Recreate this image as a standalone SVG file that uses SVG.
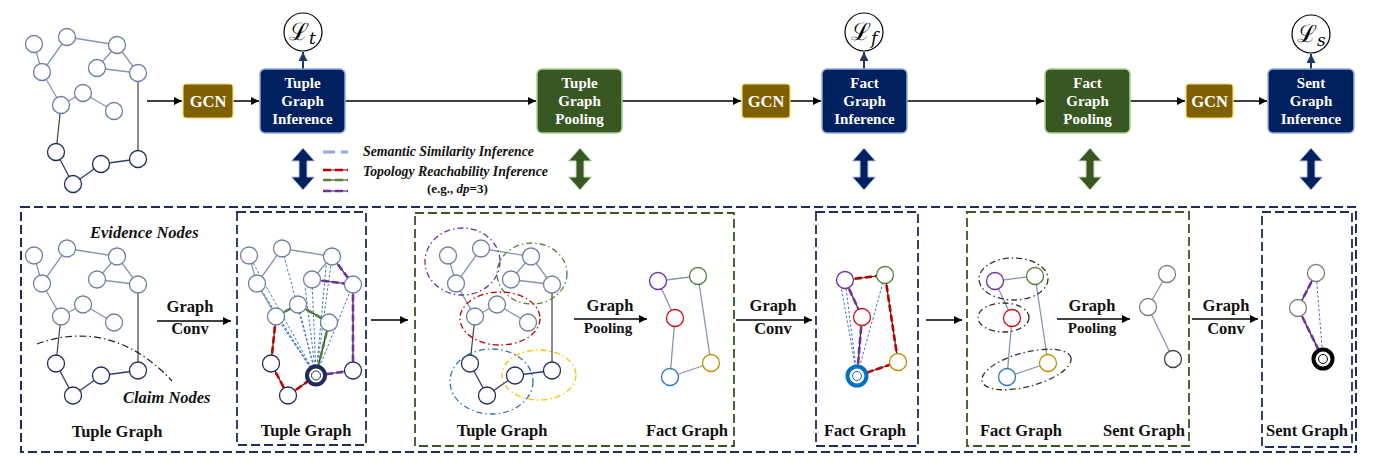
<svg xmlns="http://www.w3.org/2000/svg" xmlns:xlink="http://www.w3.org/1999/xlink" width="1379" height="471" viewBox="0 0 1379 471">
<style>
  .t{font-family:"Liberation Serif","Times New Roman",serif;font-weight:bold}
  .bx{font-family:"Liberation Serif","Times New Roman",serif;font-weight:bold;fill:#fff;font-size:15px;text-anchor:middle}
  .lbl{font-family:"Liberation Serif","Times New Roman",serif;font-weight:bold;fill:#111;font-size:16.5px;text-anchor:middle}
  .it{font-family:"Liberation Serif","Times New Roman",serif;font-weight:bold;font-style:italic;fill:#111}
  .lt{font-family:"DejaVu Serif",serif;font-size:24px;fill:#000}
  .ev{fill:#fff;stroke:#6b7fa3;stroke-width:1.3}
  .cl{fill:#fff;stroke:#1f2d5c;stroke-width:1.3}
  .ee{stroke:#8496b0;stroke-width:1.3;fill:none}
  .ce{stroke:#2f3e6b;stroke-width:1.3;fill:none}
  .xe{stroke:#404040;stroke-width:1.2;fill:none}
  .hb{stroke:#262626;stroke-width:1.2;fill:none}
  .hr{stroke:#c00000;stroke-width:2.6;stroke-dasharray:7,3;fill:none}
  .hg{stroke:#548235;stroke-width:2.6;stroke-dasharray:7,3;fill:none}
  .hp{stroke:#7030a0;stroke-width:2.6;stroke-dasharray:7,3;fill:none}
  .ss{stroke:#4472c4;stroke-width:1;stroke-dasharray:2.5,2;fill:none}
  .arr{stroke:#000;stroke-width:1.5;fill:none;marker-end:url(#ah)}
  .larr{stroke:#203864;stroke-width:2;fill:none;marker-end:url(#ahn)}
  .navy{fill:#002060;stroke:#8faadc;stroke-width:1.5}
  .green{fill:#385723;stroke:#a9d18e;stroke-width:1.5}
  .gcn{fill:#7f6000;stroke:#ffd966;stroke-width:1.2}
  .obox{fill:none;stroke:#1f2d5c;stroke-width:2;stroke-dasharray:9,4}
  .nbox{fill:none;stroke:#1f2d5c;stroke-width:1.8;stroke-dasharray:9,4}
  .gbox{fill:none;stroke:#385723;stroke-width:1.8;stroke-dasharray:9,4}
  .loss{fill:#fff;stroke:#000;stroke-width:1.2}
  .fe{stroke:#8496b0;stroke-width:1.3;fill:none}
  .dd{fill:none;stroke-width:1.3;stroke-dasharray:6,3,1.5,3}
</style>
<defs>
  <marker id="ah" viewBox="0 0 10 10" refX="10" refY="5" markerWidth="9" markerHeight="8" markerUnits="userSpaceOnUse" orient="auto"><path d="M0,0 L10,5 L0,10 z" fill="#000"/></marker>
  <marker id="ahn" viewBox="0 0 10 10" refX="10" refY="5" markerWidth="9" markerHeight="9" markerUnits="userSpaceOnUse" orient="auto"><path d="M0,0 L10,5 L0,10 z" fill="#203864"/></marker>
  <path id="dbl" d="M0,0 L11.5,13 L4,13 L4,29 L11.5,29 L0,42 L-11.5,29 L-4,29 L-4,13 L-11.5,13 Z"/>
  <g id="tgEdges">
    <line class="ee" x1="34" y1="44" x2="42" y2="72"/>
    <line class="ee" x1="42" y1="72" x2="67" y2="37"/>
    <line class="ee" x1="67" y1="37" x2="117" y2="45"/>
    <line class="ee" x1="117" y1="45" x2="97" y2="68"/>
    <line class="ee" x1="117" y1="45" x2="138" y2="73"/>
    <line class="ee" x1="97" y1="68" x2="138" y2="73"/>
    <line class="ee" x1="42" y1="72" x2="61" y2="105"/>
    <line class="ee" x1="61" y1="105" x2="83" y2="93"/>
    <line class="ee" x1="83" y1="93" x2="114" y2="111"/>
    <line class="xe" x1="61" y1="105" x2="56" y2="152"/>
    <line class="xe" x1="138" y1="73" x2="138" y2="159"/>
    <line class="ce" x1="56" y1="152" x2="73" y2="184"/>
    <line class="ce" x1="73" y1="184" x2="101" y2="164"/>
    <line class="ce" x1="101" y1="164" x2="138" y2="159"/>
  </g>
  <g id="tgNodes">
    <circle class="ev" cx="34" cy="44" r="8.5"/>
    <circle class="ev" cx="67" cy="37" r="8.5"/>
    <circle class="ev" cx="117" cy="45" r="8.5"/>
    <circle class="ev" cx="42" cy="72" r="8.5"/>
    <circle class="ev" cx="97" cy="68" r="8.5"/>
    <circle class="ev" cx="138" cy="73" r="8.5"/>
    <circle class="ev" cx="83" cy="93" r="8.5"/>
    <circle class="ev" cx="61" cy="105" r="8.5"/>
    <circle class="ev" cx="114" cy="111" r="8.5"/>
    <circle class="cl" cx="56" cy="152" r="8.5"/>
    <circle class="cl" cx="138" cy="159" r="8.5"/>
    <circle class="cl" cx="101" cy="164" r="8.5"/>
    <circle class="cl" cx="73" cy="184" r="8.5"/>
  </g>
  <g id="tupleGraph"><use xlink:href="#tgEdges"/><use xlink:href="#tgNodes"/></g>
  <g id="factNodes">
    <circle cx="0" cy="0" r="8.5" fill="#fff" stroke="#7030a0" stroke-width="1.3"/>
    <circle cx="40" cy="-5" r="8.5" fill="#fff" stroke="#548235" stroke-width="1.3"/>
    <circle cx="17" cy="37" r="8.5" fill="#fff" stroke="#d01010" stroke-width="1.3"/>
    <circle cx="53" cy="82" r="8.5" fill="#fff" stroke="#c09000" stroke-width="1.3"/>
  </g>
</defs>

<!-- top-left input graph -->
<g id="input-graph"><use xlink:href="#tupleGraph"/></g>

<!-- connectors (top row) -->
<g id="connectors">
  <line class="arr" x1="147" y1="101" x2="182" y2="101"/>
  <line class="arr" x1="233" y1="101" x2="259" y2="101"/>
  <line class="arr" x1="345" y1="101" x2="536" y2="101"/>
  <line class="arr" x1="622" y1="101" x2="741" y2="101"/>
  <line class="arr" x1="790" y1="101" x2="821" y2="101"/>
  <line class="arr" x1="907" y1="101" x2="1044" y2="101"/>
  <line class="arr" x1="1130" y1="101" x2="1185" y2="101"/>
  <line class="arr" x1="1233" y1="101" x2="1267" y2="101"/>
  <line class="larr" x1="303" y1="69" x2="303" y2="52"/>
  <line class="larr" x1="864" y1="69" x2="864" y2="52"/>
  <line class="larr" x1="1311" y1="69" x2="1311" y2="54"/>
  <!-- bottom arrows -->
  <line class="arr" x1="157" y1="321" x2="231" y2="321"/>
  <line class="arr" x1="371" y1="320" x2="408" y2="320"/>
  <line class="arr" x1="574" y1="319" x2="647" y2="319"/>
  <line class="arr" x1="736" y1="320" x2="812" y2="320"/>
  <line class="arr" x1="926" y1="320" x2="962" y2="320"/>
  <line class="arr" x1="1057" y1="319" x2="1130" y2="319"/>
  <line class="arr" x1="1192" y1="319" x2="1258" y2="319"/>
</g>

<!-- top row nodes -->
<g id="gcn1"><rect class="gcn" x="183" y="84" width="50" height="34" rx="3"/><text class="bx" x="208" y="107" style="font-size:16.5px">GCN</text></g>
<g id="tuple-inference"><rect class="navy" x="260" y="69" width="85" height="64" rx="5"/><text class="bx" x="302.5" y="88">Tuple</text><text class="bx" x="302.5" y="106">Graph</text><text class="bx" x="302.5" y="124">Inference</text></g>
<g id="loss-t"><circle class="loss" cx="303" cy="32" r="19"/><text class="lt" x="289" y="40">ℒ<tspan dy="4" style="font-size:17px;font-style:italic">t</tspan></text></g>
<g id="tuple-pooling"><rect class="green" x="537" y="69" width="85" height="64" rx="5"/><text class="bx" x="579.5" y="88">Tuple</text><text class="bx" x="579.5" y="106">Graph</text><text class="bx" x="579.5" y="124">Pooling</text></g>
<g id="gcn2"><rect class="gcn" x="742" y="84" width="48" height="34" rx="3"/><text class="bx" x="766" y="107" style="font-size:16.5px">GCN</text></g>
<g id="fact-inference"><rect class="navy" x="822" y="69" width="85" height="64" rx="5"/><text class="bx" x="864.5" y="88">Fact</text><text class="bx" x="864.5" y="106">Graph</text><text class="bx" x="864.5" y="124">Inference</text></g>
<g id="loss-f"><circle class="loss" cx="864" cy="32" r="19"/><text class="lt" x="851" y="40">ℒ<tspan dy="4" style="font-size:17px;font-style:italic">f</tspan></text></g>
<g id="fact-pooling"><rect class="green" x="1045" y="69" width="85" height="64" rx="5"/><text class="bx" x="1087.5" y="88">Fact</text><text class="bx" x="1087.5" y="106">Graph</text><text class="bx" x="1087.5" y="124">Pooling</text></g>
<g id="gcn3"><rect class="gcn" x="1186" y="84" width="47" height="34" rx="3"/><text class="bx" x="1209.5" y="107" style="font-size:16.5px">GCN</text></g>
<g id="sent-inference"><rect class="navy" x="1268" y="69" width="86" height="64" rx="5"/><text class="bx" x="1311" y="88">Sent</text><text class="bx" x="1311" y="106">Graph</text><text class="bx" x="1311" y="124">Inference</text></g>
<g id="loss-s"><circle class="loss" cx="1311" cy="34" r="19"/><text class="lt" x="1297" y="42">ℒ<tspan dy="4" style="font-size:17px;font-style:italic">s</tspan></text></g>

<!-- double arrows -->
<g id="double-arrows" stroke-width="1">
  <use xlink:href="#dbl" x="303" y="148" fill="#002060" stroke="#b4c7e7"/>
  <use xlink:href="#dbl" x="580" y="148" fill="#385723" stroke="#c5e0b4"/>
  <use xlink:href="#dbl" x="864" y="148" fill="#002060" stroke="#b4c7e7"/>
  <use xlink:href="#dbl" x="1090" y="148" fill="#385723" stroke="#c5e0b4"/>
  <use xlink:href="#dbl" x="1311" y="148" fill="#002060" stroke="#b4c7e7"/>
</g>

<!-- legend -->
<g id="legend">
  <line x1="323" y1="152" x2="348" y2="152" stroke="#8faadc" stroke-width="3" stroke-dasharray="12,6"/>
  <line x1="323" y1="170" x2="348" y2="170" stroke="#262626" stroke-width="1"/>
  <line x1="323" y1="170" x2="348" y2="170" stroke="#c00000" stroke-width="2.6" stroke-dasharray="8,4"/>
  <line x1="323" y1="180" x2="348" y2="180" stroke="#262626" stroke-width="1"/>
  <line x1="323" y1="180" x2="348" y2="180" stroke="#548235" stroke-width="2.6" stroke-dasharray="8,4"/>
  <line x1="323" y1="191" x2="348" y2="191" stroke="#262626" stroke-width="1"/>
  <line x1="323" y1="191" x2="348" y2="191" stroke="#7030a0" stroke-width="2.6" stroke-dasharray="8,4"/>
  <text class="it" x="363" y="156" style="font-size:13.8px">Semantic Similarity Inference</text>
  <text class="it" x="363" y="176" style="font-size:13.8px">Topology Reachability Inference</text>
  <text class="t" x="427" y="193" style="font-size:13px;fill:#111">(e.g., <tspan font-style="italic">dp</tspan>=3)</text>
</g>

<!-- bottom frames -->
<g id="frames">
  <rect class="obox" x="21" y="207" width="1335" height="245"/>
  <rect class="nbox" x="237" y="212" width="129" height="233"/>
  <rect class="gbox" x="415" y="213" width="319" height="233"/>
  <rect class="nbox" x="816" y="212" width="102" height="234"/>
  <rect class="gbox" x="967" y="212" width="222" height="234"/>
  <rect class="nbox" x="1262" y="212" width="90" height="235"/>
</g>

<!-- panel 1 -->
<g id="panel1">
  <g transform="translate(0,211.5)"><use xlink:href="#tupleGraph"/></g>
  <path d="M37,344 C75,330 125,330 172,381" fill="none" stroke="#222" stroke-width="1.2" stroke-dasharray="7,3,1.5,3"/>
  <text class="it" x="90" y="238" style="font-size:16.5px">Evidence Nodes</text>
  <text class="it" x="123" y="403" style="font-size:16.5px">Claim Nodes</text>
  <text class="lbl" x="117" y="437">Tuple Graph</text>
  <text class="lbl" x="190" y="312">Graph</text>
  <text class="lbl" x="190" y="334">Conv</text>
</g>

<!-- panel 2 -->
<g id="panel2">
  <g transform="translate(215,211.5)">
    <line class="ss" x1="101" y1="164" x2="34" y2="44"/>
    <line class="ss" x1="101" y1="164" x2="67" y2="37"/>
    <line class="ss" x1="101" y1="164" x2="42" y2="72"/>
    <line class="ss" x1="100" y1="164" x2="47" y2="80"/>
    <line class="ss" x1="101" y1="164" x2="61" y2="105"/>
    <line class="ss" x1="101" y1="164" x2="83" y2="93"/>
    <line class="ss" x1="101" y1="164" x2="90" y2="75"/>
    <line class="ss" x1="101" y1="164" x2="97" y2="68"/>
    <line class="ss" x1="101" y1="164" x2="112" y2="45"/>
    <line class="ss" x1="101" y1="164" x2="117" y2="45"/>
    <line class="ss" x1="101" y1="164" x2="138" y2="73"/>
    <line class="ss" x1="101" y1="164" x2="114" y2="111"/>
    <line class="ee" x1="34" y1="44" x2="42" y2="72"/>
    <line class="ee" x1="42" y1="72" x2="67" y2="37"/>
    <line class="ee" x1="67" y1="37" x2="117" y2="45"/>
    <line class="ee" x1="117" y1="45" x2="97" y2="68"/>
    <line class="ee" x1="42" y1="72" x2="61" y2="105"/>
    <g class="hb">
      <line x1="61" y1="105" x2="83" y2="93"/><line x1="83" y1="93" x2="114" y2="111"/><line x1="114" y1="111" x2="101" y2="164"/>
      <line x1="61" y1="105" x2="56" y2="152"/><line x1="56" y1="152" x2="73" y2="184"/><line x1="73" y1="184" x2="101" y2="164"/>
      <line x1="117" y1="45" x2="138" y2="73"/><line x1="97" y1="68" x2="138" y2="73"/><line x1="138" y1="73" x2="138" y2="159"/><line x1="138" y1="159" x2="101" y2="164"/>
    </g>
    <g class="hg"><line x1="61" y1="105" x2="83" y2="93"/><line x1="83" y1="93" x2="114" y2="111"/><line x1="114" y1="111" x2="101" y2="164"/></g>
    <g class="hr"><line x1="61" y1="105" x2="56" y2="152"/><line x1="56" y1="152" x2="73" y2="184"/><line x1="73" y1="184" x2="101" y2="164"/></g>
    <g class="hp"><line x1="117" y1="45" x2="138" y2="73"/><line x1="97" y1="68" x2="138" y2="73"/><line x1="138" y1="73" x2="138" y2="159"/><line x1="138" y1="159" x2="101" y2="164"/></g>
    <use xlink:href="#tgNodes"/>
    <circle cx="101" cy="164" r="9" fill="#fff" stroke="#1f2d5c" stroke-width="4"/>
    <circle cx="101" cy="164" r="4.5" fill="#fff" stroke="#1f2d5c" stroke-width="1"/>
  </g>
  <text class="lbl" x="306" y="436">Tuple Graph</text>
</g>

<!-- panel 3 -->
<g id="panel3">
  <g transform="translate(414,211.5)"><use xlink:href="#tupleGraph"/></g>
  <ellipse class="dd" cx="462.5" cy="261.5" rx="37.5" ry="33.5" stroke="#7030a0"/>
  <ellipse class="dd" cx="532" cy="273.5" rx="35" ry="30.5" stroke="#548235"/>
  <ellipse class="dd" cx="500" cy="318.5" rx="40" ry="26.5" stroke="#c00000"/>
  <ellipse class="dd" cx="491.5" cy="381.5" rx="41.5" ry="32.5" stroke="#2e75b6"/>
  <ellipse class="dd" cx="539" cy="375" rx="37" ry="25" stroke="#ffc000"/>
  <g id="fact-graph-1">
    <line class="fe" x1="658" y1="281" x2="698" y2="276"/>
    <line class="fe" x1="658" y1="281" x2="675" y2="318"/>
    <line class="fe" x1="675" y1="318" x2="670" y2="377"/>
    <line class="fe" x1="670" y1="377" x2="711" y2="363"/>
    <line class="fe" x1="698" y1="276" x2="711" y2="363"/>
    <use xlink:href="#factNodes" x="658" y="281"/>
    <circle cx="670" cy="377" r="8.5" fill="#fff" stroke="#2e75b6" stroke-width="1.3"/>
  </g>
  <text class="lbl" x="610" y="311">Graph</text>
  <text class="lbl" x="608" y="333" style="font-size:15px">Pooling</text>
  <text class="lbl" x="502" y="436">Tuple Graph</text>
  <text class="lbl" x="687" y="436">Fact Graph</text>
  <text class="lbl" x="773" y="311">Graph</text>
  <text class="lbl" x="773" y="334">Conv</text>
</g>

<!-- panel 4 -->
<g id="panel4">
  <g transform="translate(845,280)">
    <line class="ss" x1="12" y1="96" x2="0" y2="0"/>
    <line class="ss" x1="12" y1="96" x2="-4" y2="6"/>
    <line class="ss" x1="12" y1="96" x2="17" y2="37"/>
    <line class="ss" x1="12" y1="96" x2="40" y2="-5"/>
    <g class="hb"><line x1="0" y1="0" x2="40" y2="-5"/><line x1="0" y1="0" x2="17" y2="37"/><line x1="17" y1="37" x2="12" y2="96"/><line x1="12" y1="96" x2="53" y2="82"/><line x1="40" y1="-5" x2="53" y2="82"/></g>
    <g class="hr"><line x1="0" y1="0" x2="40" y2="-5"/><line x1="12" y1="96" x2="53" y2="82"/><line x1="40" y1="-5" x2="53" y2="82"/></g>
    <g class="hp"><line x1="0" y1="0" x2="17" y2="37"/><line x1="17" y1="37" x2="12" y2="96"/></g>
    <use xlink:href="#factNodes"/>
    <circle cx="12" cy="96" r="9.5" fill="#fff" stroke="#0070c0" stroke-width="4"/>
    <circle cx="12" cy="96" r="4.5" fill="#fff" stroke="#0070c0" stroke-width="1"/>
  </g>
  <text class="lbl" x="865" y="436">Fact Graph</text>
</g>

<!-- panel 5 -->
<g id="panel5">
  <g transform="translate(995,281)">
    <line class="fe" x1="0" y1="0" x2="40" y2="-5"/>
    <line class="fe" x1="0" y1="0" x2="17" y2="37"/>
    <line class="fe" x1="17" y1="37" x2="12" y2="96"/>
    <line class="fe" x1="12" y1="96" x2="53" y2="82"/>
    <line class="fe" x1="40" y1="-5" x2="53" y2="82"/>
    <use xlink:href="#factNodes"/>
    <circle cx="12" cy="96" r="8.5" fill="#fff" stroke="#2e75b6" stroke-width="1.3"/>
  </g>
  <ellipse class="dd" cx="1013.5" cy="279" rx="34.5" ry="21" stroke="#333"/>
  <ellipse class="dd" cx="1003.5" cy="317.5" rx="25.5" ry="14.5" stroke="#333"/>
  <ellipse class="dd" cx="1026.5" cy="369.5" rx="46" ry="17" stroke="#333" transform="rotate(-15 1026.5 369.5)"/>
  <g id="sent-graph-1">
    <line class="fe" x1="1167" y1="274" x2="1148" y2="307"/>
    <line class="fe" x1="1148" y1="307" x2="1173" y2="359"/>
    <circle cx="1167" cy="274" r="8.5" fill="#fff" stroke="#7f7f7f" stroke-width="1.3"/>
    <circle cx="1148" cy="307" r="8.5" fill="#fff" stroke="#7f7f7f" stroke-width="1.3"/>
    <circle cx="1173" cy="359" r="8.5" fill="#fff" stroke="#404040" stroke-width="1.3"/>
  </g>
  <text class="lbl" x="1092" y="311">Graph</text>
  <text class="lbl" x="1092" y="333" style="font-size:15px">Pooling</text>
  <text class="lbl" x="1021" y="436">Fact Graph</text>
  <text class="lbl" x="1144" y="436">Sent Graph</text>
  <text class="lbl" x="1226" y="311">Graph</text>
  <text class="lbl" x="1226" y="334">Conv</text>
</g>

<!-- panel 6 -->
<g id="panel6">
  <line class="ss" x1="1316" y1="273" x2="1323" y2="359"/>
  <line class="ss" x1="1298" y1="308" x2="1323" y2="359"/>
  <g class="hb"><line x1="1316" y1="273" x2="1298" y2="308"/><line x1="1298" y1="308" x2="1323" y2="359"/></g>
  <g class="hp"><line x1="1316" y1="273" x2="1298" y2="308"/><line x1="1298" y1="308" x2="1323" y2="359"/></g>
  <circle cx="1316" cy="273" r="8.5" fill="#fff" stroke="#7f7f7f" stroke-width="1.3"/>
  <circle cx="1298" cy="308" r="8.5" fill="#fff" stroke="#7f7f7f" stroke-width="1.3"/>
  <circle cx="1323" cy="359" r="9.5" fill="#fff" stroke="#000" stroke-width="4"/>
  <circle cx="1323" cy="359" r="4.5" fill="#fff" stroke="#000" stroke-width="1"/>
  <text class="lbl" x="1307" y="436">Sent Graph</text>
</g>
</svg>
